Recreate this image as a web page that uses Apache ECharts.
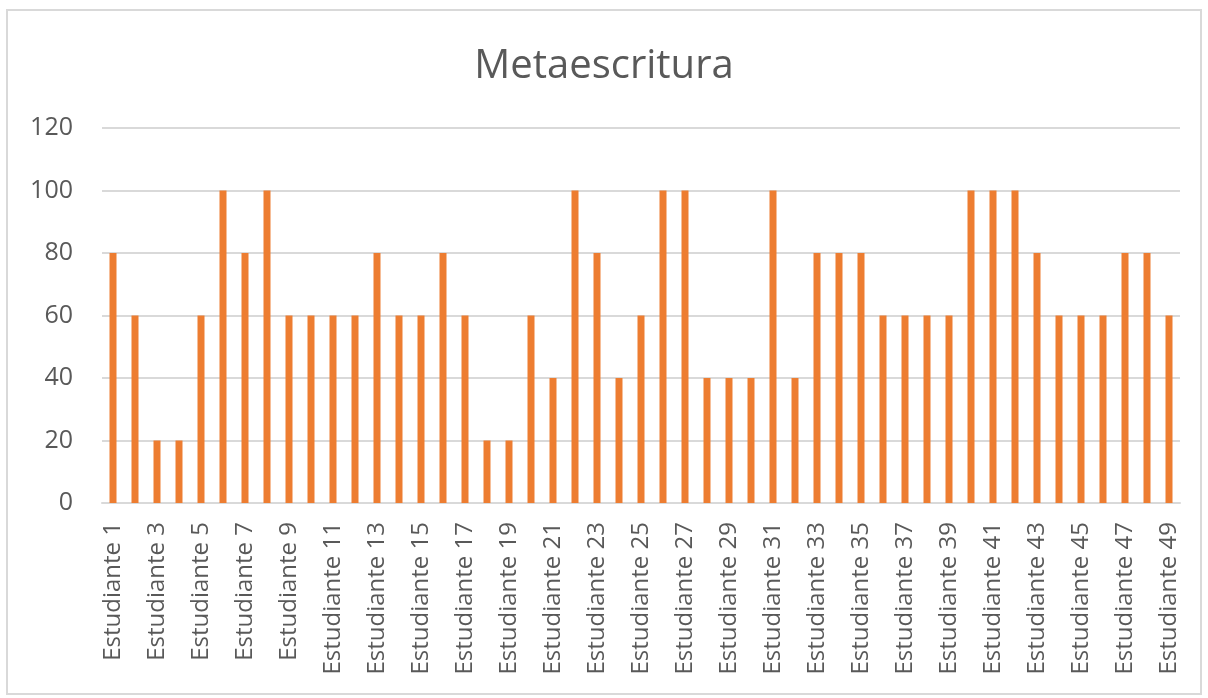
<!DOCTYPE html>
<html>
<head>
<meta charset="utf-8">
<script src="https://cdn.jsdelivr.net/npm/echarts@6/dist/echarts.min.js"></script>
<style>
html,body{margin:0;padding:0;background:#fff;}
#frame{position:absolute;left:6px;top:9px;width:1196px;height:686px;border:2px solid #d9d9d9;box-sizing:border-box;}
#chart{position:absolute;left:0;top:0;width:1208px;height:698px;}
</style>
</head>
<body>
<div id="frame"></div>
<div id="chart"></div>
<script>
const categories = [];
for (let i = 1; i <= 49; i++) categories.push('Estudiante ' + i);
const values = [80,60,20,20,60,100,80,100,60,60,60,60,80,60,60,80,60,20,20,60,40,100,80,40,60,100,100,40,40,40,100,40,80,80,80,60,60,60,60,100,100,100,80,60,60,60,80,80,60];
const yTicks = [0,20,40,60,80,100,120];
const titleText = 'Metaescritura';

const chart = echarts.init(document.getElementById('chart'));
chart.setOption({
  animation: false,
  title: {
    text: titleText, left: 'center', top: 42,
    textStyle: {fontFamily: 'Open Sans', fontSize: 40, fontWeight: 'normal', color: '#595959'}
  },
  grid: {left: 102, right: 28, top: 128, bottom: 195, containLabel: false},
  xAxis: {
    type: 'category', data: categories,
    axisLine: {lineStyle: {color: '#d9d9d9', width: 2}},
    axisTick: {show: false},
    axisLabel: {interval: 1, rotate: 90, margin: 19, color: '#595959', fontFamily: 'Open Sans', fontSize: 24}
  },
  yAxis: {
    type: 'value', min: yTicks[0], max: yTicks[yTicks.length-1], interval: 20,
    axisLine: {show: false}, axisTick: {show: false},
    axisLabel: {color: '#595959', fontFamily: 'Open Sans', fontSize: 25, margin: 29},
    splitLine: {lineStyle: {color: '#d9d9d9', width: 2}}
  },
  series: [{
    type: 'bar', data: values, barWidth: 7,
    itemStyle: {color: '#ED7D31'}
  }]
});
</script>
</body>
</html>
